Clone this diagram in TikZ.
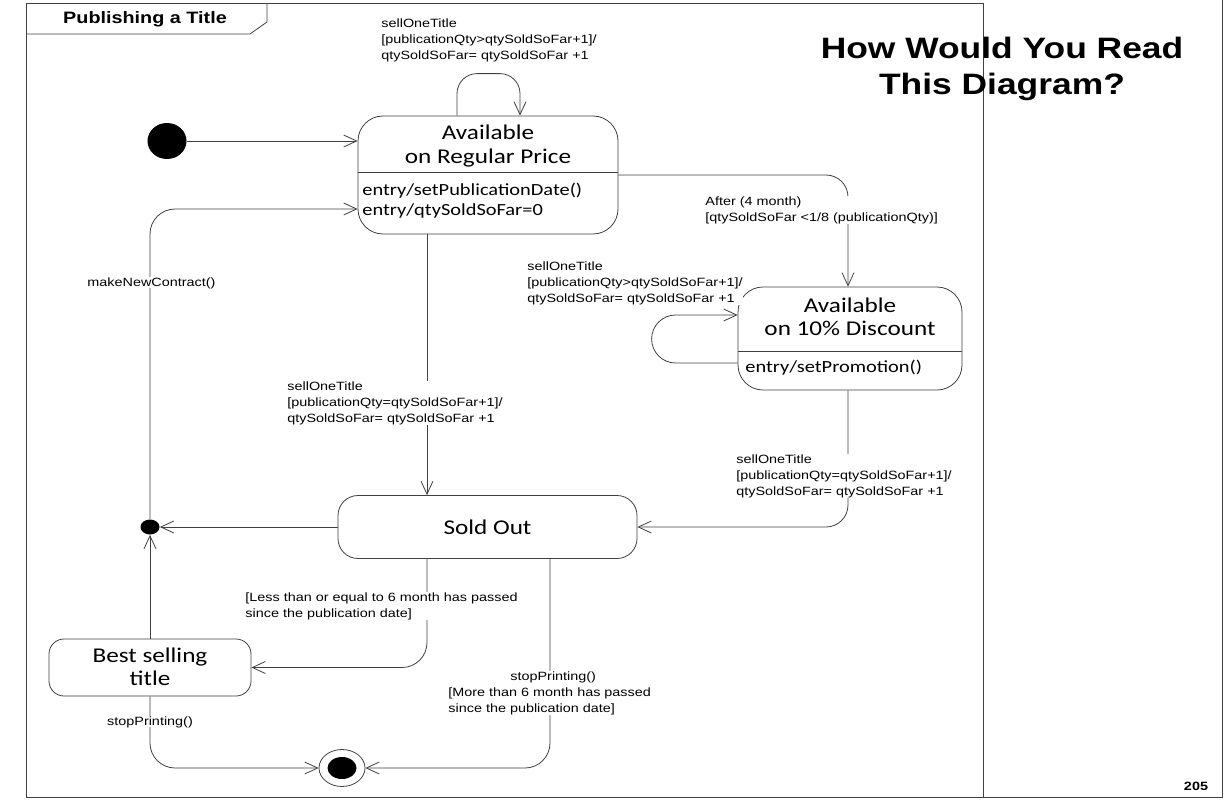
\documentclass[tikz,border=0pt]{standalone}
\usepackage{fontspec}
\setmainfont{Liberation Sans}
\newfontfamily\calfont{Carlito}
\usepackage{graphicx}
\usetikzlibrary{arrows.meta,shapes.geometric}
\colorlet{ln}{black!75}
\newcommand{\wide}[1]{\scalebox{1.2}[1]{#1}}

\begin{document}
\begin{tikzpicture}[x=1pt, y=-1pt, line width=0.8pt,
  >={Straight Barb[length=13pt,width=12pt]},
  statebox/.style={draw=ln, rounded corners=#1, inner sep=0pt},
  trans/.style={draw=ln, ->, rounded corners=22pt},
  stname/.style={font=\calfont\fontsize{21}{23.5}\selectfont, align=center, inner sep=0pt},
  entry/.style={font=\calfont\fontsize{17}{20}\selectfont, align=left, inner sep=0pt},
  lbl/.style={font=\fontsize{12}{16}\selectfont, align=left, inner sep=0pt, fill=white},
  dot/.style={ellipse, fill=black, inner sep=0pt}]
\useasboundingbox (0,0) rectangle (1224,806);

% frame and tab
\draw[ln] (26,3) rectangle (983,797);
\draw[ln] (983,797) -- (1222,797) -- (1222,0);
\draw[ln] (26,34) -- (250,34) -- (267,22) -- (267,3);
\node[font=\bfseries\fontsize{16.5}{20}\selectfont, anchor=base] (frametitle) at (145,23) {\wide{Publishing a Title}};
\node[font=\bfseries\fontsize{29.5}{36}\selectfont, align=center] (question) at (1002,69)
  {\wide{How Would You Read}\\\wide{This Diagram?}};
\node[font=\bfseries\fontsize{12}{14}\selectfont, anchor=base] (pagenum) at (1196,790) {\wide{205}};

% states
\node[statebox=25pt, minimum width=260pt, minimum height=118pt] (regular) at (488,175) {};
\draw[ln] (358,172) -- (618,172);
\node[stname] (regularname) at (488,146) {\wide{Available}\\\wide{on Regular Price}};
\node[entry, anchor=west] (regularentry) at (362,201)
  {\wide{entry/setPublicationDate()}\\\wide{entry/qtySoldSoFar=0}};

\node[statebox=25pt, minimum width=224pt, minimum height=103pt] (discount) at (850,338.5) {};
\draw[ln] (738,351) -- (962,351);
\node[stname] (discountname) at (850,317) {\wide{Available}\\\wide{on 10\% Discount}};
\node[entry, anchor=base west] (discountentry) at (745,372) {\wide{entry/setPromotion()}};

\node[statebox=20pt, minimum width=299pt, minimum height=63pt, stname] (soldout) at (487.5,527) {\wide{Sold Out}};

\node[statebox=15pt, minimum width=202pt, minimum height=57pt] (best) at (150,667.5) {};
\node[stname] (bestname) at (150,667) {\wide{Best selling}\\\wide{title}};

% pseudo states
\node[dot, minimum width=39pt, minimum height=36pt] (init) at (167,141) {};
\node[dot, minimum width=19pt, minimum height=15pt] (junction) at (150,527) {};
\node[ellipse, draw=ln, fill=white, minimum width=46pt, minimum height=37pt, inner sep=0pt] (final) at (342,768) {};
\node[dot, minimum width=29pt, minimum height=22pt] (finaldot) at (342,768) {};

% transitions
\draw[trans] (init.east) -- (regular.west |- init.east);
\draw[trans, rounded corners=20pt] ([xshift=-31pt]regular.north) -- ++(0,-42) -- ++(63,0) -- ([xshift=32pt]regular.north);
\draw[trans] (regular.east) -| ([xshift=-2pt]discount.north);
\draw[trans, rounded corners=24pt] ([yshift=-24.5pt]discount.west) -- ++(-86,0) -- ++(0,-48) -- ([yshift=23.5pt]discount.west);
\draw[trans] ([xshift=-61pt]regular.south) -- ([xshift=-60.5pt]soldout.north);
\draw[trans] ([xshift=-2pt]discount.south) |- (soldout.east);
\draw[trans] (soldout.west) -- (junction);
\draw[trans] (best.north) -- (junction);
\draw[trans, rounded corners=25pt] (junction) |- ([yshift=-34pt]regular.west);
\draw[trans, rounded corners=25pt] ([xshift=-60.5pt]soldout.south) |- (best.east);
\draw[trans, rounded corners=25pt] ([xshift=62.5pt]soldout.south) |- (final.east);
\draw[trans, rounded corners=25pt] (best.south) |- (final.west);

% labels
\node[lbl, anchor=north west] (selfreg) at (381,18)
  {\wide{sellOneTitle}\\\wide{[publicationQty>qtySoldSoFar+1]/}\\\wide{qtySoldSoFar= qtySoldSoFar +1}};
\node[lbl, anchor=north west] (after) at (705,196)
  {\wide{After (4 month)}\\\wide{[qtySoldSoFar <1/8 (publicationQty)]}};
\node[lbl, anchor=north west] (selfdisc) at (527,261)
  {\wide{sellOneTitle}\\\wide{[publicationQty>qtySoldSoFar+1]/}\\\wide{qtySoldSoFar= qtySoldSoFar +1}};
\node[lbl, anchor=north west] (lastreg) at (287,381)
  {\wide{sellOneTitle}\\\wide{[publicationQty=qtySoldSoFar+1]/}\\\wide{qtySoldSoFar= qtySoldSoFar +1}};
\node[lbl, anchor=north west] (lastdisc) at (736,454)
  {\wide{sellOneTitle}\\\wide{[publicationQty=qtySoldSoFar+1]/}\\\wide{qtySoldSoFar= qtySoldSoFar +1}};
\node[lbl, anchor=north west] (lessthan) at (245,592)
  {\wide{[Less than or equal to 6 month has passed}\\\wide{since the publication date]}};
\node[lbl, anchor=north west] (morethan) at (448,671)
  {\hspace*{62pt}\wide{stopPrinting()}\\\wide{[More than 6 month has passed}\\\wide{since the publication date]}};
\node[lbl, anchor=base] (stopbest) at (150,725) {\wide{stopPrinting()}};
\node[lbl, anchor=base west] (newcontract) at (87,286) {\wide{makeNewContract()}};
\end{tikzpicture}
\end{document}
